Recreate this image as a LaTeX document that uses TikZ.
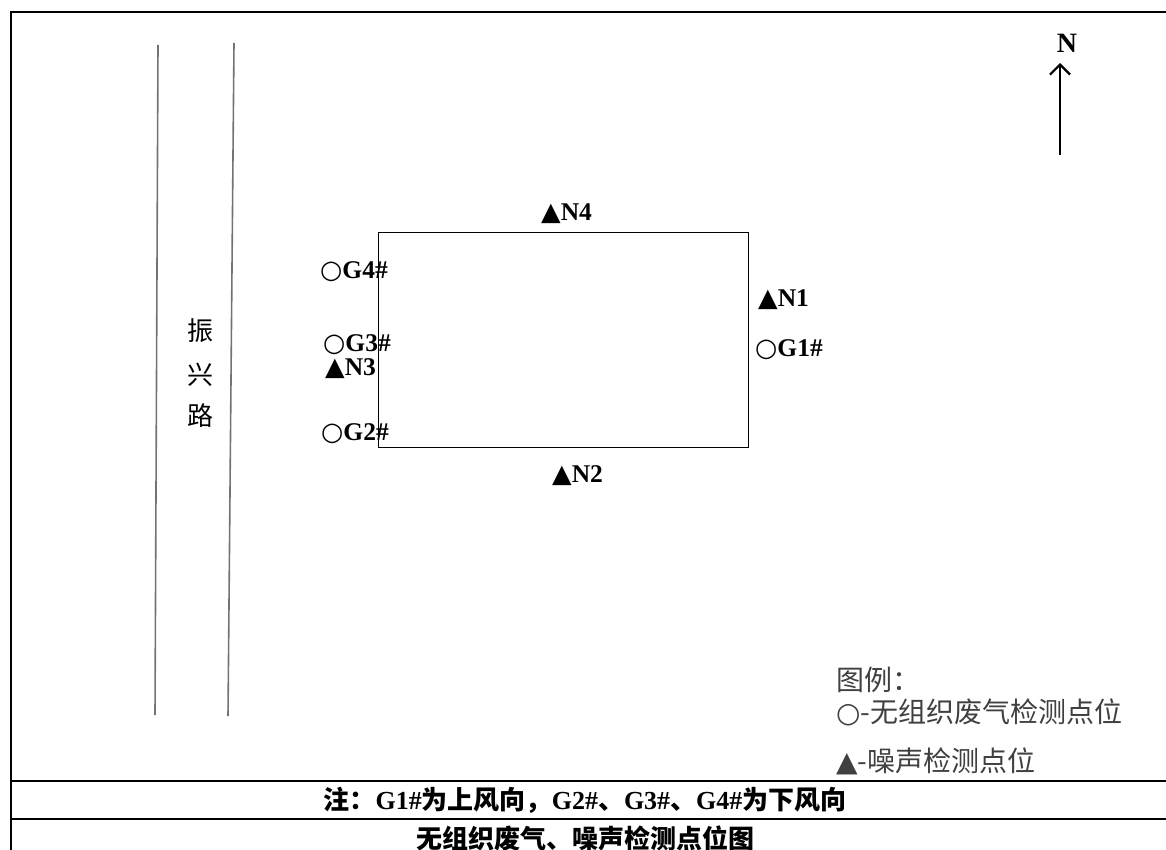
\documentclass[tikz,border=0pt]{standalone}
\usepackage{fontspec}
\setmainfont{Liberation Serif}
\newfontfamily\cjk{Noto Sans CJK SC}
\newfontfamily\sym{DejaVu Sans}
\usetikzlibrary{arrows.meta}
\begin{document}
\begin{tikzpicture}[x=1pt,y=-1pt,
  lbl/.style={font=\fontsize{25.5}{28}\selectfont\bfseries, inner sep=0pt, anchor=west, text height=17pt, text depth=1pt},
  road/.style={draw=black!55, line width=1.6pt},
  frame/.style={line width=2pt},
  roadtxt/.style={font=\fontsize{26}{28}\selectfont\cjk, inner sep=0pt},
  legend/.style={font=\fontsize{28}{30}\selectfont\cjk, inner sep=0pt, anchor=west, text=black!75},
  note/.style={font=\fontsize{26}{28}\selectfont\bfseries, inner sep=0pt}]
\useasboundingbox (0,0) rectangle (1166,850);
% frame
\draw[frame] (11,850) -- (11,12) -- (1166,12);
\draw[frame] (11,781) -- (1166,781);
\draw[frame] (11,819) -- (1166,819);
% road
\draw[road] (158,45) -- (155,715);
\draw[road] (234,43) -- (228,716);
\node[roadtxt] (r1) at (200,331) {振};
\node[roadtxt] (r2) at (200,375) {兴};
\node[roadtxt] (r3) at (200,416) {路};
% site
\node[draw, line width=1.2pt, minimum width=370pt, minimum height=215pt, anchor=north west, inner sep=0pt] (site) at (378,232) {};
% labels
\node[lbl] (n4) at (541,213) {{\sym ▲}N4};
\node[lbl] (n1) at (758,298) {{\sym ▲}N1};
\node[lbl] (g1) at (755,348) {{\sym ○}G1\#};
\node[lbl] (g4) at (320,270) {{\sym ○}G4\#};
\node[lbl] (g3) at (323,343) {{\sym ○}G3\#};
\node[lbl] (n3) at (325,367) {{\sym ▲}N3};
\node[lbl] (g2) at (321,432) {{\sym ○}G2\#};
\node[lbl] (n2) at (552,474) {{\sym ▲}N2};
% north arrow
\node[font=\fontsize{28}{30}\selectfont\bfseries, inner sep=0pt] (nlbl) at (1067,43) {N};
\coordinate (ntail) at (1060,155);
\coordinate (nhead) at (1060,63);
\draw[line width=2.4pt, -{Straight Barb[length=10pt,width=20pt,line width=2.2pt]}] (ntail) -- (nhead);
% legend
\node[legend] (lg0) at (836,680) {图例：};
\node[legend] (lg1) at (836,712) {{\sym ○}-无组织废气检测点位};
\node[legend] (lg2) at (836,761) {{\sym ▲}-噪声检测点位};
% bottom rows
\node[note] (note) at (585,800) {{\cjk 注：}G1\#{\cjk 为上风向，}G2\#{\cjk 、}G3\#{\cjk 、}G4\#{\cjk 为下风向}};
\node[note] (title) at (585,838) {\cjk 无组织废气、噪声检测点位图};
\end{tikzpicture}
\end{document}
